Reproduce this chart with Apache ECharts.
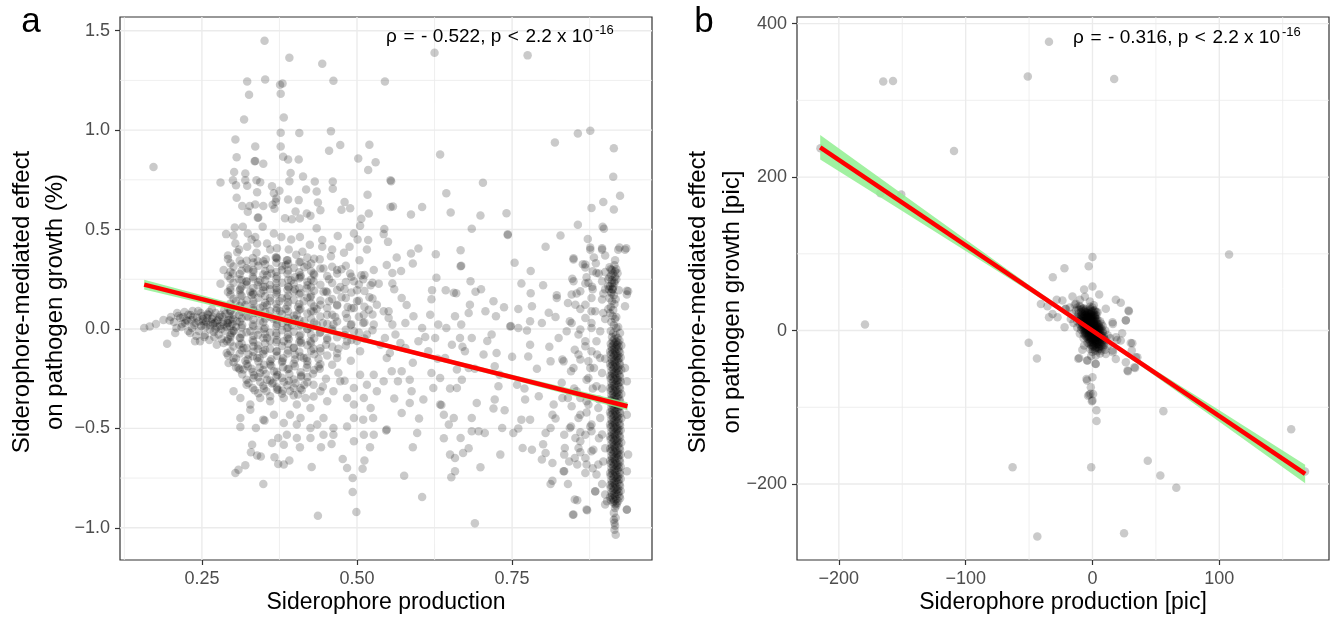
<!DOCTYPE html>
<html><head><meta charset="utf-8">
<script src="https://cdn.jsdelivr.net/npm/echarts@6/dist/echarts.min.js"></script>
<style>html,body{margin:0;padding:0;background:#fff}#c{width:1337px;height:620px}</style>
</head><body><div id="c"></div>
<script>
// ---------- Panel a data ----------
const pointsA = [
[0.351,1.45],[0.391,1.364],[0.444,1.334],[0.323,1.245],[0.352,1.255],[0.376,1.228],[0.380,1.235],[0.377,1.183],[0.326,1.178],[0.462,1.248],[0.545,1.245],[0.318,1.054],[0.382,1.064],[0.377,0.987],[0.407,0.985],[0.458,0.995],[0.304,0.953],[0.336,0.918],[0.377,0.918],[0.473,0.925],[0.52,0.926],[0.455,0.896],[0.306,0.864],[0.335,0.844],[0.349,0.831],[0.381,0.866],[0.389,0.852],[0.406,0.852],[0.502,0.857],[0.53,0.839],[0.518,0.799],[0.172,0.814],[0.302,0.789],[0.32,0.782],[0.28,0.737],[0.3,0.748],[0.32,0.748],[0.338,0.748],[0.344,0.738],[0.305,0.723],[0.323,0.72],[0.393,0.785],[0.413,0.767],[0.391,0.743],[0.432,0.742],[0.461,0.742],[0.418,0.701],[0.435,0.691],[0.461,0.705],[0.363,0.718],[0.375,0.695],[0.339,0.688],[0.517,0.675],[0.554,0.748],[0.306,0.66],[0.389,0.651],[0.406,0.648],[0.37,0.656],[0.437,0.636],[0.48,0.638],[0.315,0.619],[0.327,0.619],[0.336,0.626],[0.349,0.618],[0.367,0.604],[0.401,0.591],[0.419,0.581],[0.441,0.597],[0.475,0.6],[0.489,0.607],[0.324,0.589],[0.34,0.559],[0.384,0.557],[0.395,0.552],[0.408,0.555],[0.425,0.57],[0.519,0.581],[0.507,0.554],[0.554,0.614],[0.303,0.51],[0.316,0.514],[0.348,0.514],[0.435,0.507],[0.505,0.519],[0.544,0.503],[0.289,0.477],[0.301,0.47],[0.324,0.48],[0.336,0.463],[0.366,0.48],[0.378,0.463],[0.394,0.45],[0.408,0.463],[0.424,0.423],[0.444,0.447],[0.469,0.467],[0.495,0.48],[0.501,0.45],[0.518,0.447],[0.543,0.477],[0.304,0.43],[0.323,0.413],[0.339,0.43],[0.355,0.43],[0.371,0.406],[0.444,0.413],[0.488,0.413],[0.292,0.37],[0.307,0.386],[0.322,0.343],[0.338,0.383],[0.353,0.35],[0.369,0.36],[0.387,0.346],[0.402,0.373],[0.412,0.388],[0.458,0.366],[0.479,0.383],[0.504,0.346],[0.548,0.322],[0.516,0.4],[0.285,0.296],[0.3,0.279],[0.322,0.237],[0.333,0.296],[0.344,0.245],[0.362,0.279],[0.379,0.296],[0.394,0.245],[0.409,0.27],[0.43,0.279],[0.446,0.304],[0.468,0.296],[0.489,0.279],[0.507,0.27],[0.527,0.296],[0.535,0.228],[0.28,0.228],[0.296,0.195],[0.312,0.203],[0.328,0.187],[0.349,0.211],[0.371,0.195],[0.398,0.187],[0.419,0.203],[0.446,0.187],[0.473,0.211],[0.5,0.195],[0.522,0.22],
[0.366,0.682],[0.364,0.625],[0.336,0.845],[0.341,0.56],[0.37,0.36],[0.322,0.24],[0.4,0.2],[0.369,0.64],
[0.625,1.389],[0.775,1.376],[0.819,0.938],[0.856,0.983],[0.876,0.997],[0.914,0.909],[0.634,0.878],[0.913,0.765],[0.555,0.743],[0.703,0.735],[0.644,0.683],[0.924,0.67],[0.558,0.616],[0.587,0.576],[0.605,0.613],[0.651,0.586],[0.699,0.571],[0.741,0.582],[0.878,0.609],[0.897,0.638],[0.914,0.601],[0.685,0.504],[0.743,0.473],[0.743,0.476],[0.856,0.524],[0.896,0.514],[0.898,0.504],[0.828,0.47],[0.872,0.453],[0.804,0.413],[0.55,0.438],[0.599,0.405],[0.587,0.38],[0.564,0.359],[0.627,0.376],[0.667,0.396],[0.876,0.41],[0.895,0.406],[0.923,0.41],[0.934,0.406],[0.882,0.359],[0.849,0.356],[0.916,0.346],[0.754,0.333],[0.667,0.316],[0.668,0.318],[0.59,0.329],[0.78,0.292],[0.557,0.282],[0.571,0.292],[0.864,0.326],[0.868,0.309],[0.89,0.279],[0.9,0.287],[0.911,0.296],[0.916,0.262],[0.683,0.24],[0.628,0.257],[0.765,0.229],[0.847,0.252],[0.868,0.229],[0.879,0.212],[0.911,0.229],[0.922,0.195],[0.935,0.192],[0.557,0.229],[0.621,0.195],[0.643,0.195],[0.656,0.182],[0.691,0.187],[0.822,0.17],[0.854,0.178],[0.897,0.178],[0.913,0.212],
[0.905,0.25],[0.91,0.27],[0.915,0.24],[0.907,0.31],[0.918,0.3],[0.912,0.2],[0.905,0.215],[0.87,0.26],[0.88,0.29],[0.895,0.24],[0.9,0.2],[0.915,0.32],[0.92,0.28],[0.91,0.18],
[0.157,0.005],[0.166,0.013],[0.176,0.025],[0.194,-0.074],[0.198,0.042],[0.209,0.005],[0.215,0.055],[0.207,-0.02],[0.223,0.03],[0.228,0.072],[0.234,0.005],[0.239,-0.062],[0.247,-0.062],[0.245,0.039],[0.253,0.022],[0.258,0.055],[0.263,-0.003],[0.271,0.03],[0.277,-0.028],[0.28,0.072],[0.285,0.022],[0.274,-0.079],[0.29,-0.062],[0.29,-0.121],[0.296,0.089],[0.301,-0.012],[0.306,0.039],[0.312,-0.045],[0.301,-0.146],[0.293,-0.171],[0.309,-0.196],[0.317,-0.204],[0.325,-0.129],[0.317,-0.096],[0.333,-0.087],[0.339,-0.146],[0.328,-0.012],[0.344,0.039],[0.355,-0.045],[0.349,-0.112],[0.36,-0.163],[0.344,-0.221],[0.333,-0.247],[0.322,-0.28],[0.355,-0.255],[0.366,-0.213],[0.371,-0.112],[0.382,-0.062],[0.387,0.005],[0.398,-0.096],[0.409,-0.028],[0.414,-0.146],[0.425,-0.062],[0.435,0.022],[0.441,-0.112],[0.452,-0.045],[0.462,0.022],[0.468,-0.146],[0.484,-0.062],[0.495,-0.012],[0.505,-0.112],[0.516,-0.028],[0.527,0.022],[0.538,-0.079],[0.548,-0.146],[0.543,0.089],[0.519,0.097],[0.495,0.106],[0.468,0.122],[0.441,0.122],[0.414,0.139],[0.387,0.156],[0.36,0.156],[0.333,0.139],[0.312,0.173],[0.344,0.106],[0.376,0.089],[0.403,0.072],[0.43,0.089],[0.452,0.072],[0.484,0.055],[0.511,0.072],[0.532,0.122],[0.551,0.055],
[0.301,-0.313],[0.312,-0.347],[0.328,-0.38],[0.344,-0.347],[0.36,-0.364],[0.371,-0.305],[0.382,-0.347],[0.398,-0.297],[0.403,-0.38],[0.417,-0.347],[0.425,-0.398],[0.441,-0.313],[0.452,-0.364],[0.462,-0.313],[0.473,-0.263],[0.484,-0.347],[0.495,-0.297],[0.505,-0.23],[0.516,-0.28],[0.527,-0.23],[0.532,-0.313],[0.543,-0.263],[0.495,-0.38],[0.511,-0.347],[0.522,-0.398],[0.312,-0.448],[0.328,-0.406],[0.349,-0.456],[0.366,-0.431],[0.382,-0.473],[0.392,-0.431],[0.403,-0.481],[0.409,-0.448],[0.425,-0.498],[0.436,-0.481],[0.446,-0.448],[0.462,-0.498],[0.484,-0.49],[0.495,-0.448],[0.51,-0.456],[0.526,-0.448],[0.312,-0.493],[0.337,-0.498],[0.351,-0.461],[0.547,-0.511],[0.373,-0.548],[0.387,-0.532],[0.403,-0.548],[0.425,-0.548],[0.446,-0.532],[0.462,-0.532],[0.495,-0.565],[0.511,-0.532],[0.527,-0.532],[0.521,-0.595],[0.331,-0.582],[0.363,-0.574],[0.382,-0.582],[0.408,-0.595],[0.442,-0.595],[0.459,-0.579],[0.329,-0.62],[0.339,-0.637],[0.345,-0.641],[0.367,-0.645],[0.373,-0.679],[0.382,-0.682],[0.391,-0.662],[0.427,-0.694],[0.477,-0.654],[0.484,-0.699],[0.509,-0.703],[0.512,-0.662],[0.304,-0.724],[0.309,-0.708],[0.32,-0.686],[0.349,-0.78],[0.493,-0.75],[0.493,-0.82],[0.499,-0.92],[0.437,-0.94],
[0.22,0.06],[0.225,0.045],[0.232,0.07],[0.238,0.02],[0.242,0.058],[0.248,0.08],[0.252,0.04],[0.256,0.01],[0.26,0.07],[0.265,0.035],[0.268,0.06],[0.272,0.0],[0.276,0.045],[0.279,0.015],[0.283,0.06],[0.287,-0.01],[0.291,0.03],[0.294,0.065],[0.298,-0.02],[0.262,0.085],[0.245,-0.01],[0.235,0.09],[0.27,-0.04],[0.282,-0.05],[0.255,-0.03],[0.218,0.025],[0.228,-0.01],[0.2,0.06],[0.188,0.045],[0.21,0.08],[0.266,0.1],[0.286,0.095],[0.3,0.05],[0.305,0.01],[0.31,0.07],
[0.32,0.12],[0.335,0.08],[0.345,0.18],[0.355,0.12],[0.365,0.05],[0.375,0.14],[0.385,0.1],[0.395,0.02],[0.405,0.11],[0.415,0.04],[0.425,0.16],[0.435,0.1],[0.445,0.03],[0.455,0.14],[0.465,0.06],[0.475,0.16],[0.485,0.11],[0.49,0.02],[0.5,0.14],[0.51,0.03],[0.52,0.16],[0.315,0.02],[0.325,0.06],[0.34,-0.03],[0.35,0.0],[0.36,0.09],[0.37,-0.02],[0.38,0.03],[0.39,-0.05],[0.4,0.05],[0.41,-0.07],[0.42,0.0],[0.43,-0.1],[0.44,-0.02],[0.45,-0.08],[0.46,0.0],[0.47,-0.1],[0.48,-0.03],[0.49,-0.16],[0.5,-0.06],[0.31,-0.08],[0.32,-0.16],[0.33,-0.2],[0.34,-0.1],[0.35,-0.18],[0.36,-0.06],[0.37,-0.24],[0.38,-0.16],[0.39,-0.2],[0.4,-0.13],[0.41,-0.24],[0.42,-0.18],[0.43,-0.28],[0.44,-0.2],[0.45,-0.25],[0.46,-0.18],[0.47,-0.22],[0.48,-0.26],[0.35,-0.3],[0.365,-0.27],[0.38,-0.31],[0.39,-0.26],[0.405,-0.33],[0.415,-0.28],[0.43,-0.34],[0.445,-0.29],[0.31,0.25],[0.325,0.3],[0.34,0.22],[0.355,0.27],[0.37,0.23],[0.385,0.32],[0.4,0.26],[0.415,0.31],[0.43,0.24],[0.44,0.35],[0.455,0.25],[0.475,0.3],[0.495,0.24],[0.305,0.14],[0.33,0.17],[0.36,0.2],[0.39,0.21],[0.42,0.22],[0.45,0.19],[0.48,0.2],[0.51,0.25],[0.34,0.34],[0.36,0.4],[0.31,0.4],[0.33,0.45],[0.39,0.4],[0.42,0.36],[0.46,0.4],
[0.572,0.156],[0.551,0.089],[0.557,0.022],[0.545,-0.045],[0.562,-0.028],[0.578,0.03],[0.591,0.064],[0.605,0.005],[0.618,0.072],[0.626,-0.045],[0.631,0.022],[0.644,0.005],[0.658,0.064],[0.668,0.022],[0.653,-0.079],[0.666,-0.045],[0.685,-0.045],[0.682,0.122],[0.707,0.089],[0.724,0.064],[0.737,0.109],[0.747,0.013],[0.748,0.015],[0.76,0.005],[0.774,-0.008],[0.779,0.039],[0.782,0.114],[0.798,0.03],[0.809,0.081],[0.822,0.156],[0.825,-0.045],[0.838,-0.012],[0.846,0.03],[0.857,-0.028],[0.868,0.055],[0.878,0.005],[0.884,0.089],[0.868,0.122],[0.852,0.122],[0.846,0.173],[0.878,0.156],[0.935,0.173],[0.932,0.114],[0.599,-0.062],[0.578,-0.096],[0.553,-0.121],[0.615,-0.112],[0.642,-0.146],[0.674,-0.112],[0.704,-0.129],[0.725,-0.121],[0.717,-0.028],[0.722,-0.188],[0.779,-0.079],[0.776,-0.138],[0.812,-0.163],[0.831,-0.154],[0.845,-0.213],[0.857,-0.129],[0.873,-0.163],[0.868,-0.087],[0.887,-0.129],[0.873,-0.247],[0.882,-0.196],[0.556,-0.213],[0.572,-0.213],[0.585,-0.255],[0.566,-0.263],[0.62,-0.221],[0.634,-0.247],[0.661,-0.204],[0.669,-0.255],[0.68,-0.196],[0.623,-0.297],[0.661,-0.297],[0.588,-0.313],[0.607,-0.355],[0.585,-0.372],[0.634,-0.38],[0.636,-0.382],[0.693,-0.372],[0.722,-0.355],[0.728,-0.288],[0.758,-0.28],[0.771,-0.355],[0.793,-0.339],[0.817,-0.38],[0.831,-0.347],[0.846,-0.389],[0.86,-0.347],[0.873,-0.38],[0.89,-0.355],[0.815,-0.431],[0.572,-0.423],[0.64,-0.431],[0.656,-0.448],[0.648,-0.481],[0.685,-0.448],[0.738,-0.409],[0.765,-0.456],[0.779,-0.456],[0.845,-0.49],[0.857,-0.448],[0.878,-0.481],[0.892,-0.448],[0.548,-0.506],[0.597,-0.523],[0.685,-0.515],[0.696,-0.515],[0.706,-0.523],[0.734,-0.498],[0.752,-0.523],[0.804,-0.523],[0.812,-0.498],[0.834,-0.532],[0.852,-0.548],[0.868,-0.532],[0.878,-0.515],[0.667,-0.548],[0.59,-0.595],[0.65,-0.632],[0.658,-0.649],[0.671,-0.624],[0.731,-0.632],[0.767,-0.599],[0.782,-0.607],[0.804,-0.624],[0.798,-0.657],[0.815,-0.674],[0.834,-0.632],[0.842,-0.666],[0.857,-0.599],[0.868,-0.649],[0.878,-0.615],[0.889,-0.682],[0.855,-0.682],[0.658,-0.716],[0.652,-0.746],[0.699,-0.696],[0.834,-0.716],[0.868,-0.724],[0.815,-0.763],[0.812,-0.78],[0.884,-0.817],[0.9,-0.833],[0.576,-0.738],[0.605,-0.845],[0.855,-0.862],[0.871,-0.912],[0.848,-0.934],[0.935,-0.909],[0.69,-0.977],[0.903,-0.867],
[0.849,0.349],[0.868,0.324],[0.876,0.399],[0.895,0.399],[0.921,0.399],[0.932,0.399],[0.886,0.282],[0.873,0.232],[0.849,0.24],[0.895,0.148],[0.86,0.19],[0.84,0.131],[0.878,0.089],[0.897,0.08],[0.937,0.19],[0.843,0.039],[0.86,-0.003],[0.878,0.03],[0.892,-0.012],[0.868,-0.062],[0.886,-0.062],[0.851,-0.104],[0.878,-0.112],[0.892,-0.146],[0.86,-0.154],[0.833,-0.163],[0.849,-0.196],[0.876,-0.196],[0.895,-0.221],[0.932,-0.196],[0.935,-0.263],[0.87,-0.255],[0.886,-0.288],[0.854,-0.313],[0.84,-0.347],[0.87,-0.364],[0.889,-0.397],[0.935,-0.431],[0.86,-0.431],[0.843,-0.498],[0.876,-0.49],[0.895,-0.531],[0.86,-0.565],[0.835,-0.599],[0.881,-0.607],[0.851,-0.649],[0.897,-0.666],[0.87,-0.682],[0.937,-0.632],[0.833,-0.716],[0.886,-0.732],[0.935,-0.716],[0.851,-0.858],[0.87,-0.908],[0.849,-0.933],[0.935,-0.908],[0.884,-0.816],[0.9,-0.883]
];
// extra points of the dense central cloud of panel a
const denseA = [
[0.292,0.352],[0.311,0.344],[0.332,0.357],[0.349,0.341],[0.371,0.355],[0.388,0.346],[0.409,0.338],[0.431,0.353],
[0.301,0.314],[0.322,0.305],[0.341,0.318],[0.36,0.302],[0.379,0.316],[0.398,0.307],[0.42,0.321],[0.441,0.304],[0.46,0.313],[0.482,0.318],
[0.292,0.268],[0.311,0.276],[0.332,0.262],[0.349,0.274],[0.371,0.265],[0.388,0.278],[0.409,0.261],[0.431,0.273],[0.452,0.266],[0.468,0.279],[0.491,0.262],[0.512,0.271],
[0.301,0.232],[0.322,0.224],[0.341,0.236],[0.36,0.221],[0.379,0.233],[0.398,0.227],[0.42,0.238],[0.441,0.222],[0.46,0.231],[0.482,0.236],[0.503,0.224],[0.525,0.233],
[0.292,0.186],[0.311,0.195],[0.332,0.182],[0.349,0.193],[0.371,0.184],[0.388,0.197],[0.409,0.181],[0.431,0.192],[0.452,0.185],[0.468,0.196],[0.491,0.183],[0.512,0.191],
[0.301,0.152],[0.322,0.144],[0.341,0.157],[0.36,0.141],[0.379,0.154],[0.398,0.146],[0.42,0.158],[0.441,0.143],[0.46,0.151],[0.482,0.156],[0.503,0.142],[0.525,0.153],
[0.292,0.108],[0.311,0.116],[0.332,0.103],[0.349,0.114],[0.371,0.105],[0.388,0.117],[0.409,0.102],[0.431,0.113],[0.452,0.106],[0.468,0.118],[0.491,0.104],[0.512,0.112],
[0.301,0.072],[0.322,0.064],[0.341,0.077],[0.36,0.061],[0.379,0.074],[0.398,0.066],[0.42,0.078],[0.441,0.063],[0.46,0.071],[0.482,0.076],[0.503,0.062],[0.525,0.073],
[0.292,0.028],[0.311,0.036],[0.332,0.023],[0.349,0.034],[0.371,0.025],[0.388,0.037],[0.409,0.022],[0.431,0.033],[0.452,0.026],[0.468,0.038],[0.491,0.024],[0.512,0.032],
[0.301,-0.008],[0.322,-0.016],[0.341,-0.003],[0.36,-0.019],[0.379,-0.006],[0.398,-0.014],[0.42,-0.002],[0.441,-0.017],[0.46,-0.009],[0.482,-0.004],[0.503,-0.018],[0.525,-0.007],
[0.292,-0.052],[0.311,-0.044],[0.332,-0.057],[0.349,-0.046],[0.371,-0.055],[0.388,-0.043],[0.409,-0.058],[0.431,-0.047],[0.452,-0.054],[0.468,-0.042],[0.491,-0.056],[0.512,-0.048],
[0.301,-0.088],[0.322,-0.096],[0.341,-0.083],[0.36,-0.099],[0.379,-0.086],[0.398,-0.094],[0.42,-0.082],[0.441,-0.097],[0.46,-0.089],[0.482,-0.084],
[0.292,-0.132],[0.311,-0.124],[0.332,-0.137],[0.349,-0.126],[0.371,-0.135],[0.388,-0.123],[0.409,-0.138],[0.431,-0.127],[0.452,-0.134],[0.468,-0.122],
[0.301,-0.168],[0.322,-0.176],[0.341,-0.163],[0.36,-0.179],[0.379,-0.166],[0.398,-0.174],[0.42,-0.162],[0.441,-0.177],
[0.311,-0.204],[0.332,-0.217],[0.349,-0.206],[0.371,-0.215],[0.388,-0.203],[0.409,-0.218],[0.431,-0.207],
[0.322,-0.256],[0.341,-0.243],[0.36,-0.259],[0.379,-0.246],[0.398,-0.254],[0.42,-0.242],
[0.332,-0.297],[0.349,-0.286],[0.371,-0.295],[0.388,-0.283],[0.409,-0.298],
[0.341,-0.323],[0.36,-0.339],[0.379,-0.326],[0.398,-0.334],
[0.205,0.035],[0.212,0.065],[0.217,0.01],[0.222,0.085],[0.227,0.04],[0.231,-0.02],[0.236,0.06],[0.24,0.03],[0.244,0.09],[0.249,0.015],[0.251,0.065],[0.254,-0.04],[0.257,0.035],[0.259,0.075],[0.263,0.02],[0.266,0.05],[0.269,-0.015],[0.272,0.08],[0.274,0.04],[0.278,0.06],[0.281,0.0],[0.284,0.035],[0.288,0.075],[0.29,0.01],[0.293,0.045],[0.296,-0.04],[0.299,0.025],[0.241,-0.035],[0.262,-0.055],[0.285,-0.07],[0.233,0.045],[0.268,0.025],[0.252,0.05],[0.275,0.01],
[0.56,0.2],[0.58,0.12],[0.62,0.15],[0.66,0.18],[0.68,0.08],[0.7,0.2],[0.72,0.14],[0.76,0.1],[0.78,0.18],[0.8,0.22],[0.82,0.06],[0.86,0.1],[0.88,0.2],[0.57,-0.07],[0.59,-0.17],[0.61,-0.04],[0.63,-0.15],[0.65,-0.3],[0.67,-0.09],[0.69,-0.2],[0.71,-0.06],[0.73,-0.23],[0.75,-0.14],[0.77,-0.3],[0.79,-0.2],[0.81,-0.09],[0.83,-0.27],[0.85,-0.3],[0.87,-0.42],[0.88,-0.3],[0.89,-0.55],[0.86,-0.62],[0.84,-0.78],[0.88,-0.7],[0.895,-0.78],[0.56,-0.35],[0.6,-0.45],[0.64,-0.55],[0.68,-0.6],[0.72,-0.4],[0.76,-0.5],[0.8,-0.58],[0.82,-0.45],[0.86,-0.52],[0.9,-0.6],[0.895,-0.3],[0.9,-0.15],[0.9,0.05],[0.885,0.33],[0.9,0.37]
];
const denseA2 = [
[0.296,0.331],[0.314,0.327],[0.333,0.334],[0.352,0.326],[0.37,0.333],[0.389,0.328],[0.407,0.335],[0.426,0.329],
[0.296,0.288],[0.314,0.293],[0.333,0.286],[0.352,0.292],[0.37,0.287],[0.389,0.294],[0.407,0.285],[0.426,0.291],
[0.296,0.252],[0.314,0.247],[0.333,0.254],[0.352,0.246],[0.37,0.253],[0.389,0.248],[0.407,0.255],[0.426,0.249],
[0.296,0.208],[0.314,0.213],[0.333,0.206],[0.352,0.212],[0.37,0.207],[0.389,0.214],[0.407,0.205],[0.426,0.211],
[0.296,0.172],[0.314,0.167],[0.333,0.174],[0.352,0.166],[0.37,0.173],[0.389,0.168],[0.407,0.175],[0.426,0.169],
[0.296,0.128],[0.314,0.133],[0.333,0.126],[0.352,0.132],[0.37,0.127],[0.389,0.134],[0.407,0.125],[0.426,0.131],
[0.296,0.092],[0.314,0.087],[0.333,0.094],[0.352,0.086],[0.37,0.093],[0.389,0.088],[0.407,0.095],[0.426,0.089],
[0.296,0.048],[0.314,0.053],[0.333,0.046],[0.352,0.052],[0.37,0.047],[0.389,0.054],[0.407,0.045],[0.426,0.051],
[0.296,0.012],[0.314,0.007],[0.333,0.014],[0.352,0.006],[0.37,0.013],[0.389,0.008],[0.407,0.015],[0.426,0.009],
[0.296,-0.032],[0.314,-0.027],[0.333,-0.034],[0.352,-0.026],[0.37,-0.033],[0.389,-0.028],[0.407,-0.035],[0.426,-0.029],
[0.296,-0.068],[0.314,-0.073],[0.333,-0.066],[0.352,-0.072],[0.37,-0.067],[0.389,-0.074],[0.407,-0.065],[0.426,-0.071],
[0.296,-0.112],[0.314,-0.107],[0.333,-0.114],[0.352,-0.106],[0.37,-0.113],[0.389,-0.108],[0.407,-0.115],[0.426,-0.109],
[0.305,-0.148],[0.324,-0.153],[0.343,-0.146],[0.362,-0.152],[0.381,-0.147],[0.4,-0.154],[0.419,-0.145],[0.438,-0.151],
[0.305,-0.192],[0.324,-0.187],[0.343,-0.194],[0.362,-0.186],[0.381,-0.193],[0.4,-0.188],[0.419,-0.195],[0.438,-0.189],
[0.315,-0.228],[0.334,-0.233],[0.353,-0.226],[0.372,-0.232],[0.391,-0.227],[0.41,-0.234],[0.429,-0.225],
[0.325,-0.272],[0.344,-0.267],[0.363,-0.274],[0.382,-0.266],[0.401,-0.273],[0.42,-0.268],
[0.335,-0.308],[0.354,-0.313],[0.373,-0.306],[0.392,-0.312],[0.411,-0.307]
];
const columnA = [
[0.909,0.30],[0.913,0.28],[0.907,0.26],[0.911,0.245],[0.915,0.23],[0.908,0.215],[0.912,0.2],[0.91,0.185],[0.914,0.17],[0.907,0.155],[0.911,0.14],[0.915,0.125],[0.909,0.11],[0.913,0.095],[0.908,0.08],[0.912,0.065],[0.916,0.05],[0.91,0.035],[0.914,0.02],[0.918,0.005],[0.909,-0.01],[0.913,-0.02],[0.917,-0.03],[0.911,-0.04],[0.915,-0.05],[0.92,-0.045],[0.924,-0.02],[0.921,0.01],[0.918,0.06],[0.905,0.1],[0.917,0.15],[0.906,0.2],[0.918,0.25],[0.916,0.29],
[0.912,-0.060],[0.918,-0.063],[0.923,-0.058],[0.915,-0.071],[0.921,-0.069],[0.909,-0.074],
[0.913,-0.081],[0.919,-0.079],[0.926,-0.083],[0.910,-0.090],[0.917,-0.092],[0.922,-0.088],
[0.914,-0.101],[0.920,-0.099],[0.911,-0.104],[0.916,-0.112],[0.922,-0.109],[0.908,-0.114],
[0.912,-0.121],[0.918,-0.124],[0.924,-0.119],[0.915,-0.131],[0.921,-0.133],[0.909,-0.128],
[0.913,-0.142],[0.919,-0.139],[0.925,-0.144],[0.910,-0.151],[0.917,-0.153],[0.922,-0.149],
[0.914,-0.162],[0.920,-0.159],[0.911,-0.165],[0.916,-0.172],[0.923,-0.170],[0.908,-0.175],
[0.912,-0.182],[0.918,-0.185],[0.924,-0.180],[0.915,-0.192],[0.921,-0.194],[0.909,-0.189],
[0.913,-0.203],[0.919,-0.200],[0.926,-0.205],[0.910,-0.212],[0.917,-0.214],[0.922,-0.210],
[0.914,-0.223],[0.920,-0.221],[0.911,-0.226],[0.916,-0.233],[0.923,-0.231],[0.908,-0.236],
[0.912,-0.243],[0.918,-0.246],[0.924,-0.241],[0.915,-0.253],[0.921,-0.255],[0.909,-0.250],
[0.913,-0.264],[0.919,-0.261],[0.925,-0.266],[0.910,-0.273],[0.917,-0.275],[0.922,-0.271],
[0.914,-0.284],[0.920,-0.282],[0.911,-0.287],[0.916,-0.294],[0.923,-0.292],[0.908,-0.297],
[0.912,-0.304],[0.918,-0.307],[0.924,-0.302],[0.915,-0.314],[0.921,-0.316],[0.909,-0.311],
[0.913,-0.325],[0.919,-0.322],[0.926,-0.327],[0.910,-0.334],[0.917,-0.336],[0.922,-0.332],
[0.914,-0.345],[0.920,-0.343],[0.911,-0.348],[0.916,-0.355],[0.923,-0.353],[0.908,-0.358],
[0.912,-0.365],[0.918,-0.368],[0.924,-0.363],[0.915,-0.375],[0.921,-0.377],[0.909,-0.372],
[0.913,-0.386],[0.919,-0.383],[0.925,-0.388],[0.910,-0.395],[0.917,-0.397],[0.922,-0.393],
[0.914,-0.406],[0.920,-0.404],[0.911,-0.409],[0.916,-0.416],[0.923,-0.414],[0.908,-0.419],
[0.912,-0.426],[0.918,-0.429],[0.924,-0.424],[0.915,-0.436],[0.921,-0.438],[0.909,-0.433],
[0.913,-0.447],[0.919,-0.444],[0.926,-0.449],[0.910,-0.456],[0.917,-0.458],[0.922,-0.454],
[0.914,-0.467],[0.920,-0.465],[0.911,-0.470],[0.916,-0.477],[0.923,-0.475],[0.908,-0.480],
[0.912,-0.487],[0.918,-0.490],[0.924,-0.485],[0.915,-0.497],[0.921,-0.499],[0.909,-0.494],
[0.913,-0.508],[0.919,-0.505],[0.925,-0.510],[0.910,-0.517],[0.917,-0.519],[0.922,-0.515],
[0.914,-0.528],[0.920,-0.526],[0.911,-0.531],[0.916,-0.538],[0.923,-0.536],[0.908,-0.541],
[0.912,-0.548],[0.918,-0.551],[0.924,-0.546],[0.915,-0.558],[0.921,-0.560],[0.909,-0.555],
[0.913,-0.569],[0.919,-0.566],[0.926,-0.571],[0.910,-0.578],[0.917,-0.580],[0.922,-0.576],
[0.914,-0.589],[0.920,-0.587],[0.911,-0.592],[0.916,-0.599],[0.923,-0.597],[0.908,-0.602],
[0.912,-0.609],[0.918,-0.612],[0.924,-0.607],[0.915,-0.619],[0.921,-0.621],[0.909,-0.616],
[0.913,-0.630],[0.919,-0.627],[0.925,-0.632],[0.910,-0.639],[0.917,-0.641],[0.922,-0.637],
[0.914,-0.650],[0.920,-0.648],[0.911,-0.653],[0.916,-0.660],[0.923,-0.658],[0.908,-0.663],
[0.912,-0.670],[0.918,-0.673],[0.924,-0.668],[0.915,-0.680],[0.921,-0.682],[0.909,-0.677],
[0.913,-0.691],[0.919,-0.688],[0.925,-0.693],[0.910,-0.700],[0.917,-0.702],[0.922,-0.698],
[0.914,-0.711],[0.920,-0.709],[0.911,-0.714],[0.916,-0.721],[0.923,-0.719],[0.908,-0.724],
[0.912,-0.731],[0.918,-0.734],[0.924,-0.729],[0.915,-0.741],[0.921,-0.743],[0.909,-0.738],
[0.913,-0.752],[0.919,-0.749],[0.925,-0.754],[0.910,-0.761],[0.917,-0.763],[0.922,-0.759],
[0.914,-0.772],[0.920,-0.770],[0.911,-0.775],[0.916,-0.782],[0.923,-0.780],[0.908,-0.785],
[0.912,-0.792],[0.918,-0.795],[0.924,-0.790],[0.915,-0.802],[0.921,-0.804],[0.909,-0.799],
[0.913,-0.813],[0.919,-0.810],[0.925,-0.815],[0.910,-0.822],[0.917,-0.824],[0.922,-0.820],
[0.914,-0.833],[0.920,-0.831],[0.911,-0.836],[0.916,-0.843],[0.923,-0.841],[0.908,-0.846],
[0.912,-0.853],[0.918,-0.856],[0.924,-0.851],[0.915,-0.863],[0.921,-0.865],[0.909,-0.860],
[0.913,-0.872],[0.919,-0.876],[0.916,-0.882],[0.918,-0.888],
[0.916,-0.9],[0.914,-0.925],[0.917,-0.95],[0.915,-0.975],[0.916,-0.99],[0.915,-1.01],[0.917,-1.035],[0.914,-0.96]
];
const fitAx = [0.157, 0.936];
const fitAy = [0.223, -0.389];
const bandAx = [0.157, 0.3, 0.45, 0.6, 0.75, 0.936];
const bandALow = [0.198, 0.093, -0.02, -0.136, -0.256, -0.409];
const bandAHigh = [0.248, 0.128, 0.006, -0.114, -0.23, -0.369];
const xRangeA = [0.118, 0.9755];
const yRangeA = [-1.162, 1.569];
const xTickA = [0.25, 0.5, 0.75];
const xLabA = ['0.25', '0.50', '0.75'];
const xMinorA = [0.125, 0.375, 0.625, 0.875];
const yTickA = [-1.0, -0.5, 0.0, 0.5, 1.0, 1.5];
const yLabA = ['\u22121.0', '\u22120.5', '0.0', '0.5', '1.0', '1.5'];
const yMinorA = [-0.75, -0.25, 0.25, 0.75, 1.25];

// ---------- Panel b data ----------
const pointsB = [
[-34.3,376.5],[-165,324.4],[-157.3,325.3],[-51,331],[17.1,327.9],[-214.5,237.5],[-109.2,234.1],[-167.2,178.9],[-150.8,177.2],[107.7,99],[0,96],[-22.1,81.2],[-3,83.8],[-31.3,69.5],[-179.4,7.8],[-50.3,-16],[-43.8,-36.5],[-22,4.3],[-1,-178],[-63,-178],[43.6,-169.8],[53.5,-189],[66.1,-205],[55.9,-105],[156.7,-128.5],[167.6,-183.7],[-43.5,-268.4],[24.9,-264],[3.1,-104],[3.2,-118],[-4.3,-65],[0,-61],[-1.6,-82.5],[0,-91],[-3.5,-85],[-11.2,-36.9],[-4.3,-39],[2.4,-43.4],[16.1,8.7],[26.3,13],[16.1,-28.2],[26.3,-41.3],[28,-53],[33.1,-47.8],[35.4,-34.7],[31.4,-16.5],[19.5,-12.2],[23.4,-3.5],[28.7,25.2],[-21.4,28.2],[-34.3,17.4],[-40.7,34.7],[-28.2,40.1],
[-6.6,53.5],[0,57.4],[5.3,47],[-15.8,44.3],[-23.7,39.1],[-35.5,31.7],[-31.5,21.7],[-27.6,17.4],[-21,28.3],[-13.1,34.8],[-17.1,15.2],[10.5,28.3],[18.4,40],[22.3,36.1],[28.4,26.1],[26.3,13.5],[15.8,10.9],[18.4,-8.7],[22.3,-13],[30.2,-16.1],[31,-26.1],[34.2,-34.8],[27.6,-52.2],[33.6,-48.7],[15.8,-26.1],[18.4,-37],[10.5,-30.4],[2.6,-32.6],[2.6,-43.5],[-3.9,-39.1],[-10.5,-35.7],[-6.6,-19.6],[-4.7,-63],[-1.3,-73.9],[-2.6,-83.5],[0.5,-82.6],[-0.5,-92.2]
];
const blobB = [
[-14,34],[-12,30],[-10,32],[-13,26],[-9,27],[-7,29],[-11,22],[-8,22],[-5,24],[-12,18],[-9,17],[-6,19],[-3,21],[-10,13],[-7,14],[-4,15],[-1,17],[-8,9],[-5,10],[-2,11],[1,12],[-9,5],[-6,6],[-3,7],[0,8],[3,9],[-7,1],[-4,2],[-1,3],[2,4],[5,5],[-6,-3],[-3,-2],[0,-1],[3,0],[6,1],[-4,-7],[-1,-6],[2,-5],[5,-4],[8,-3],[-3,-11],[0,-10],[3,-9],[6,-8],[9,-7],[-1,-15],[2,-14],[5,-13],[8,-12],[0,-19],[3,-18],[6,-17],[9,-16],[2,-23],[5,-22],[8,-21],[4,-27],[7,-26],[10,-25],[-5,0],[-2,0],[1,0],[4,2],[-4,12],[-1,14],[2,16],[-6,20],[-3,26],[0,30],[4,24],[6,12],[8,6],[10,0],[12,-6],[-10,40],[-6,44],[-2,38],[1,33],[-15,10],[-12,4],[-10,-4],[-7,-10],[-4,-16],[-2,-24],[0,-28],[6,-30],[-1,-33],[-8,-25],[10,-12],[12,-20],[14,-10],[-16,22],[-18,30],[-2,5],[1,-3],[-3,9],[4,-12],[-5,16],[7,-20],[-8,12],[2,20],[-1,-8],[3,3],[-6,-6],[5,8],
[-6,15],[-4,18],[-2,12],[0,15],[-5,7],[-3,4],[-1,10],[1,6],[3,12],[-4,-3],[-2,-4],[0,3],[2,-2],[4,-6],[-1,-12],[1,-9],[3,-14],[5,-10],[-7,18],[-3,17],[1,19],[-8,4],[-6,9],[-2,2],[2,8],[4,5],[6,-2],[0,-5],[-2,-9],[2,-12],[4,-18],[6,-14],[-9,24],[-5,28],[-1,24],[3,20],[-11,16],[-7,6],[-3,-5],[1,-16],[5,-24],[8,-9],[-4,8],[0,12],[-1,0],[3,-4],[-5,2],[1,4],[-2,18],[2,-8],
[-9,30],[-7,25],[-5,21],[-3,18],[-1,21],[1,23],[-8,16],[-6,12],[-4,10],[-2,14],[0,17],[2,13],[-7,8],[-5,4],[-3,1],[-1,6],[1,9],[3,6],[-5,-4],[-3,-8],[-1,-3],[1,-6],[3,-2],[5,1],[-2,-13],[0,-14],[2,-10],[4,-8],[6,-5],[1,-20],[3,-22],[5,-18],[7,-15],[-11,27],[-12,12],[-9,1],[4,14],[6,4],[8,-1],[-6,1],[-4,23],[-8,19],[0,-24],[6,-24],[-2,28],[2,26],[-10,8],[9,-19],[-3,-17],[7,9],
[-4,5],[-2,8],[0,1],[2,1],[-1,18],[-6,24],[4,-1],[3,-16],[-3,12],[1,14],
[-8,28],[-6,26],[-4,20],[-2,22],[0,20],[2,18],[-7,11],[-5,13],[-3,14],[-1,12],[1,10],[3,15],[-6,3],[-4,0],[-2,-1],[0,-2],[2,-4],[4,-3],[-4,6],[-2,6],[0,5],[2,6],[4,9],[-3,-6],[-1,-10],[1,-12],[3,-7],[5,-7],[0,-17],[2,-18],[4,-15],[6,-11],[-9,20],[-7,22],[-5,17],[-3,23],[-1,27],[1,26],[3,24],[-8,7],[-6,-1],[-4,-10],[-2,-15],[0,-21],[2,-26],[4,-22],[6,-20],[8,-15],[-10,18],[-9,11],[5,3],[7,-6],[7,2],[-1,-19],[3,-11],[-5,-8],[-7,-4],[9,-10],[-2,31],[0,25]
];
const fitBx = [-214.7, 167.7];
const fitBy = [238.8, -186.7];
const bandBx = [-214.7, -150, -100, -50, 0, 50, 100, 167.7];
const bandBLow = [222.8, 155.8, 103.6, 51.5, -2.5, -59.9, -119, -198.9];
const bandBHigh = [254.8, 177.8, 118.6, 59.5, 2.5, -51.9, -104, -174.9];
const xRangeB = [-233, 186.5];
const yRangeB = [-299, 408.6];
const xTickB = [-200, -100, 0, 100];
const xLabB = ['\u2212200', '\u2212100', '0', '100'];
const xMinorB = [-150, -50, 50, 150];
const yTickB = [-200, 0, 200, 400];
const yLabB = ['\u2212200', '0', '200', '400'];
const yMinorB = [-100, 100, 300];

// ---------- Chart ----------
const FONT = '"Liberation Sans", Arial, Helvetica, sans-serif';
const chart = echarts.init(document.getElementById('c'), null, {renderer: 'canvas'});

function labFmt(ticks, labs) {
  return function (v) {
    const i = ticks.findIndex(t => Math.abs(t - v) < 1e-9);
    return i >= 0 ? labs[i] : '';
  };
}
function makeAxis(gi, range, ticks, labs) {
  return {
    type: 'value', gridIndex: gi, min: range[0], max: range[1], scale: true,
    axisLine: {show: false, onZero: false},
    splitLine: {show: false},
    axisTick: {show: true, customValues: ticks, length: 5, inside: false, lineStyle: {color: '#333333', width: 1.2}},
    axisLabel: {show: true, customValues: ticks, formatter: labFmt(ticks, labs), color: '#4D4D4D', fontSize: 18, fontFamily: FONT, margin: 10}
  };
}
function gridLines(idx, xMaj, xMin, yMaj, yMin, xr, yr) {
  return {
    type: 'custom', xAxisIndex: idx, yAxisIndex: idx, z: 1, silent: true, clip: false,
    data: [[xMaj[0], yMaj[0]]],
    renderItem: function (params, api) {
      const ch = [];
      const add = (a, b, w) => ch.push({type: 'line', shape: {x1: a[0], y1: a[1], x2: b[0], y2: b[1]}, style: {stroke: '#EBEBEB', lineWidth: w}});
      xMin.forEach(v => add(api.coord([v, yr[0]]), api.coord([v, yr[1]]), 0.8));
      yMin.forEach(v => add(api.coord([xr[0], v]), api.coord([xr[1], v]), 0.8));
      xMaj.forEach(v => add(api.coord([v, yr[0]]), api.coord([v, yr[1]]), 1.4));
      yMaj.forEach(v => add(api.coord([xr[0], v]), api.coord([xr[1], v]), 1.4));
      return {type: 'group', children: ch};
    }
  };
}
function band(idx, bx, lo, hi) {
  return {
    type: 'custom', xAxisIndex: idx, yAxisIndex: idx, z: 3, silent: true, clip: false,
    data: [[bx[0], lo[0]]],
    renderItem: function (params, api) {
      const pts = [];
      for (let i = 0; i < bx.length; i++) pts.push(api.coord([bx[i], hi[i]]));
      for (let i = bx.length - 1; i >= 0; i--) pts.push(api.coord([bx[i], lo[i]]));
      return {type: 'polygon', shape: {points: pts}, style: {fill: 'rgba(144,238,144,0.85)'}};
    }
  };
}
function scatter(idx, data) {
  return {
    type: 'scatter', xAxisIndex: idx, yAxisIndex: idx, z: 2, silent: true,
    symbolSize: 8.5, data: data, large: false, progressive: 0,
    itemStyle: {color: 'rgba(0,0,0,0.26)', borderWidth: 0}
  };
}
function fitLine(idx, xs, ys) {
  return {
    type: 'line', xAxisIndex: idx, yAxisIndex: idx, z: 4, silent: true,
    data: xs.map((x, i) => [x, ys[i]]), showSymbol: false, symbol: 'none',
    lineStyle: {color: '#FF0000', width: 4.5}
  };
}

const titleStyle = {fill: '#000', fontSize: 23, fontFamily: FONT, align: 'center', verticalAlign: 'middle'};
const yTitleStyle = {fill: '#000', fontSize: 24, fontFamily: FONT, align: 'center', verticalAlign: 'middle'};
function annot(xRight, y, txt) {
  return [
    {type: 'text', x: xRight, y: y, z: 10, style: {
      text: '{a|ρ}{o|=}{a|' + txt + ', p}{o|<}{a|2.2 x 10}',
      rich: {a: {fontSize: 19, fontFamily: FONT, fill: '#000'}, o: {fontSize: 19, fontFamily: FONT, fill: '#000', padding: [0, 6.5]}},
      align: 'right', verticalAlign: 'middle'}},
    {type: 'text', x: xRight + 2, y: y - 6, z: 10, style: {text: '-16', fontSize: 13, fontFamily: FONT, fill: '#000', align: 'left', verticalAlign: 'middle'}}
  ];
}

const option = {
  animation: false,
  backgroundColor: '#ffffff',
  grid: [
    {left: 120, top: 17, width: 532, height: 543, show: true, borderColor: '#333333', borderWidth: 1.2, backgroundColor: 'transparent', containLabel: false, outerBoundsMode: 'none'},
    {left: 797, top: 17, width: 532, height: 543, show: true, borderColor: '#333333', borderWidth: 1.2, backgroundColor: 'transparent', containLabel: false, outerBoundsMode: 'none'}
  ],
  xAxis: [makeAxis(0, xRangeA, xTickA, xLabA), makeAxis(1, xRangeB, xTickB, xLabB)],
  yAxis: [makeAxis(0, yRangeA, yTickA, yLabA), makeAxis(1, yRangeB, yTickB, yLabB)],
  series: [
    gridLines(0, xTickA, xMinorA, yTickA, yMinorA, xRangeA, yRangeA),
    gridLines(1, xTickB, xMinorB, yTickB, yMinorB, xRangeB, yRangeB),
    scatter(0, pointsA.concat(denseA, denseA2, columnA)),
    scatter(1, pointsB.concat(blobB)),
    band(0, bandAx, bandALow, bandAHigh),
    band(1, bandBx, bandBLow, bandBHigh),
    fitLine(0, fitAx, fitAy),
    fitLine(1, fitBx, fitBy)
  ],
  graphic: [
    {type: 'text', x: 31, y: 22, style: {text: 'a', fontSize: 35, fontFamily: FONT, fill: '#000', align: 'center', verticalAlign: 'middle'}},
    {type: 'text', x: 704, y: 22, style: {text: 'b', fontSize: 35, fontFamily: FONT, fill: '#000', align: 'center', verticalAlign: 'middle'}},
    {type: 'text', x: 386, y: 603, style: Object.assign({text: 'Siderophore production'}, titleStyle)},
    {type: 'text', x: 1063, y: 603, style: Object.assign({text: 'Siderophore production [pic]'}, titleStyle)},
    {type: 'text', x: 22, y: 302, rotation: Math.PI / 2, style: Object.assign({text: 'Siderophore-mediated effect'}, yTitleStyle)},
    {type: 'text', x: 55, y: 302, rotation: Math.PI / 2, style: Object.assign({text: 'on pathogen growth (%)'}, yTitleStyle)},
    {type: 'text', x: 698, y: 302, rotation: Math.PI / 2, style: Object.assign({text: 'Siderophore-mediated effect'}, yTitleStyle)},
    {type: 'text', x: 732, y: 302, rotation: Math.PI / 2, style: Object.assign({text: 'on pathogen growth [pic]'}, yTitleStyle)}
  ].concat(annot(593, 36.5, '- 0.522')).concat(annot(1280, 38, '- 0.316'))
};
chart.setOption(option);
</script>
</body></html>
